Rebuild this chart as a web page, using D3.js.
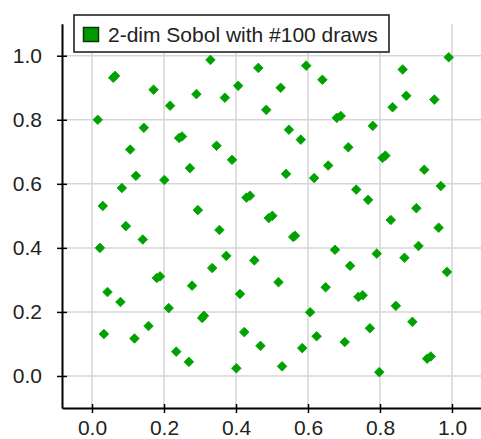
<!DOCTYPE html>
<html>
<head>
<meta charset="utf-8">
<script src="https://cdn.jsdelivr.net/npm/d3@7"></script>
<style>
  body { margin: 0; background: #fff; }
  svg { display: block; }
  .tick text { font-family: "Liberation Sans", Arial, sans-serif; font-size: 21px; fill: #222; }
</style>
</head>
<body>
<svg id="chart" width="481" height="439"></svg>
<script>
// points (x, y pairs)
const sobolX = [0.016, 0.059, 0.064, 0.171, 0.144, 0.217, 0.242, 0.250, 0.290, 0.329,
  0.346, 0.369, 0.406, 0.462, 0.484, 0.524, 0.547, 0.580, 0.595, 0.640,
  0.680, 0.691, 0.712, 0.780, 0.835, 0.863, 0.873, 0.951, 0.991, 0.106,
  0.272, 0.389, 0.122, 0.083, 0.201, 0.030, 0.094, 0.141, 0.022, 0.180,
  0.189, 0.294, 0.354, 0.334, 0.373, 0.429, 0.439, 0.491, 0.501, 0.539,
  0.559, 0.564, 0.451, 0.518, 0.617, 0.656, 0.734, 0.767, 0.807, 0.815,
  0.830, 0.923, 0.969, 0.901, 0.963, 0.907, 0.868, 0.791, 0.675, 0.717,
  0.986, 0.649, 0.043, 0.278, 0.411, 0.079, 0.740, 0.752, 0.844, 0.890,
  0.931, 0.941, 0.798, 0.772, 0.702, 0.624, 0.606, 0.584, 0.528, 0.468,
  0.423, 0.401, 0.306, 0.311, 0.269, 0.234, 0.213, 0.157, 0.118, 0.033];
const sobolY = [0.800, 0.931, 0.937, 0.894, 0.775, 0.844, 0.743, 0.748, 0.880, 0.987,
  0.719, 0.869, 0.906, 0.962, 0.831, 0.900, 0.769, 0.738, 0.969, 0.925,
  0.806, 0.812, 0.714, 0.781, 0.839, 0.957, 0.875, 0.863, 0.995, 0.707,
  0.649, 0.675, 0.625, 0.587, 0.612, 0.531, 0.468, 0.426, 0.400, 0.306,
  0.311, 0.518, 0.456, 0.337, 0.375, 0.557, 0.563, 0.493, 0.500, 0.631,
  0.434, 0.438, 0.361, 0.293, 0.618, 0.657, 0.582, 0.550, 0.681, 0.688,
  0.487, 0.644, 0.593, 0.524, 0.463, 0.406, 0.369, 0.382, 0.394, 0.344,
  0.325, 0.277, 0.262, 0.282, 0.256, 0.231, 0.247, 0.252, 0.219, 0.169,
  0.054, 0.061, 0.012, 0.149, 0.106, 0.124, 0.199, 0.087, 0.030, 0.094,
  0.137, 0.024, 0.181, 0.188, 0.044, 0.076, 0.212, 0.156, 0.117, 0.131];
const tickVals = [0, 0.2, 0.4, 0.6, 0.8, 1.0];
const legendLabel = "2-dim Sobol with #100 draws";

const svg = d3.select("#chart");
const green = "#00a000";

const x = d3.scaleLinear().domain([-1 / 12, 1.0806]).range([62, 481]);
const y = d3.scaleLinear().domain([-0.1, 1.1]).range([408, 23.7]);

// grid
const grid = svg.append("g");
grid.selectAll(".vg").data(tickVals).enter().append("line")
    .attr("x1", d => x(d)).attr("x2", d => x(d))
    .attr("y1", y.range()[1]).attr("y2", y.range()[0])
    .attr("stroke", "#d6d6d6").attr("stroke-width", 1.5);
grid.selectAll(".hg").data(tickVals).enter().append("line")
    .attr("x1", x.range()[0]).attr("x2", x.range()[1])
    .attr("y1", d => y(d)).attr("y2", d => y(d))
    .attr("stroke", "#d6d6d6").attr("stroke-width", 1.5);

// axes
const xAxis = svg.append("g").attr("transform", `translate(0,${y.range()[0]})`)
    .call(d3.axisBottom(x).tickValues(tickVals).tickFormat(d3.format(".1f"))
        .tickSizeOuter(0).tickSizeInner(5).tickPadding(7));
xAxis.selectAll(".tick line").attr("y1", -4);
const yAxis = svg.append("g").attr("transform", `translate(${x.range()[0]},0)`)
    .call(d3.axisLeft(y).tickValues(tickVals).tickFormat(d3.format(".1f"))
        .tickSizeOuter(0).tickSizeInner(5).tickPadding(15));
yAxis.selectAll(".tick line").attr("x1", 5);
svg.selectAll(".domain").attr("stroke", "#000").attr("stroke-width", 2);
svg.selectAll(".tick line").attr("stroke", "#000").attr("stroke-width", 1.5);

// points
const pts = sobolX.map((v, i) => ({x: v, y: sobolY[i]}));
const diamond = d3.symbol(d3.symbolSquare, 46);
svg.append("g").selectAll("path").data(pts).enter().append("path")
    .attr("d", diamond)
    .attr("transform", d => `translate(${x(d.x)},${y(d.y)}) rotate(45)`)
    .attr("fill", green)
    .attr("stroke", "#00a800")
    .attr("stroke-width", 0.8);

// legend
const lg = svg.append("g");
lg.append("rect").attr("x", 74).attr("y", 15).attr("width", 315).attr("height", 37)
    .attr("fill", "#fff").attr("stroke", "#222").attr("stroke-width", 1.6);
lg.append("rect").attr("x", 83.5).attr("y", 27.5).attr("width", 15).attr("height", 14)
    .attr("fill", "#009a00").attr("stroke", "#063806").attr("stroke-width", 1.5);
lg.append("text").attr("x", 108).attr("y", 42)
    .attr("font-family", "'Liberation Sans', Arial, sans-serif")
    .attr("font-size", 21).attr("fill", "#222")
    .text(legendLabel);
</script>
</body>
</html>
